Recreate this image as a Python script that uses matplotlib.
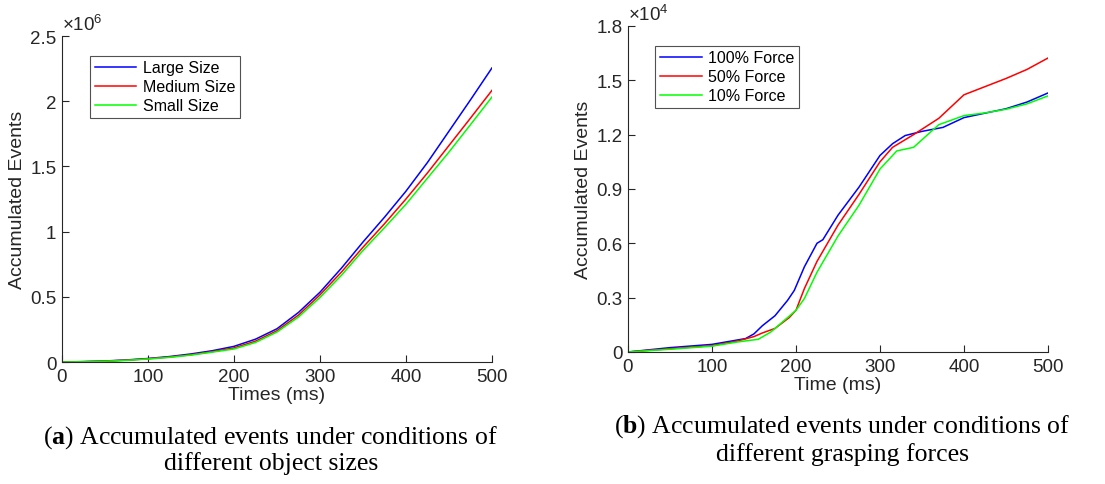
import matplotlib.pyplot as plt
from matplotlib.ticker import FuncFormatter

plt.rcParams['font.family'] = ['Liberation Sans', 'DejaVu Sans']
plt.rcParams['mathtext.fontset'] = 'custom'
plt.rcParams['mathtext.bf'] = 'Liberation Serif:bold'
plt.rcParams['mathtext.rm'] = 'Liberation Sans'

# (a) accumulated events vs. time for object sizes, in units of 1e6
t_size = [0, 25, 50, 75, 100, 125, 150, 175, 200, 225, 250,
          275, 300, 325, 350, 375, 400, 425, 450, 475, 500]
large = [0, 0.003, 0.008, 0.016, 0.027, 0.042, 0.062, 0.087, 0.12, 0.175, 0.255,
         0.38, 0.535, 0.72, 0.92, 1.11, 1.31, 1.53, 1.77, 2.01, 2.255]
medium = [0, 0.003, 0.007, 0.014, 0.025, 0.038, 0.056, 0.08, 0.108, 0.16, 0.24,
          0.36, 0.515, 0.69, 0.88, 1.06, 1.25, 1.45, 1.66, 1.87, 2.083]
small = [0, 0.002, 0.006, 0.013, 0.023, 0.036, 0.053, 0.076, 0.10, 0.15, 0.23,
         0.345, 0.495, 0.665, 0.855, 1.03, 1.21, 1.41, 1.61, 1.82, 2.032]
size_labels = ['Large Size', 'Medium Size', 'Small Size']

# (b) accumulated events vs. time for grasping forces, in units of 1e4
t_f100 = [0, 25, 50, 100, 140, 150, 160, 175, 190, 198, 210, 225, 232, 250,
          275, 300, 315, 330, 350, 375, 400, 450, 475, 500]
f100 = [0, 0.012, 0.024, 0.042, 0.074, 0.10, 0.145, 0.20, 0.285, 0.34, 0.47, 0.60, 0.62, 0.755,
        0.91, 1.085, 1.15, 1.195, 1.218, 1.24, 1.294, 1.343, 1.38, 1.43]
t_f50 = [0, 50, 100, 130, 150, 160, 175, 192, 200, 210, 225, 250,
         275, 300, 315, 340, 370, 400, 450, 475, 500]
f50 = [0, 0.018, 0.035, 0.06, 0.085, 0.105, 0.13, 0.19, 0.23, 0.35, 0.50, 0.70,
       0.87, 1.05, 1.13, 1.20, 1.29, 1.42, 1.51, 1.56, 1.623]
t_f10 = [0, 50, 100, 130, 155, 170, 190, 200, 210, 225, 240, 250,
         275, 300, 320, 340, 370, 400, 425, 450, 475, 500]
f10 = [0, 0.015, 0.032, 0.055, 0.07, 0.11, 0.19, 0.23, 0.295, 0.44, 0.56, 0.64,
       0.81, 1.01, 1.11, 1.13, 1.255, 1.305, 1.32, 1.34, 1.37, 1.414]
force_labels = ['100% Force', '50% Force', '10% Force']

colors = ['#0000ff', '#ff0000', '#00ff00']
gray = '#262626'

fig = plt.figure(figsize=(11.05, 4.85), dpi=100)
ax1 = fig.add_axes([0.0561, 0.2515, 0.3891, 0.6722])
ax2 = fig.add_axes([0.5683, 0.2722, 0.3801, 0.6722])

for y, lab, c in zip([large, medium, small], size_labels, colors):
    ax1.plot(t_size, y, color=c, lw=1.1, label=lab)
for t, y, lab, c in zip([t_f100, t_f50, t_f10], [f100, f50, f10], force_labels, colors):
    ax2.plot(t, y, color=c, lw=1.1, label=lab)

fmt = FuncFormatter(lambda v, p: '%g' % round(v, 3))
setups = [(ax1, 2.5, [0, 0.5, 1, 1.5, 2, 2.5], 'Times (ms)', '6'),
          (ax2, 1.8, [0, 0.3, 0.6, 0.9, 1.2, 1.5, 1.8], 'Time (ms)', '4')]
for ax, ymax, yt, xl, ex in setups:
    ax.set_xlim(0, 500)
    ax.set_ylim(0, ymax)
    ax.set_xticks([0, 100, 200, 300, 400, 500])
    ax.set_yticks(yt)
    ax.yaxis.set_major_formatter(fmt)
    for s in ['top', 'right']:
        ax.spines[s].set_visible(False)
    for s in ['left', 'bottom']:
        ax.spines[s].set_color(gray)
        ax.spines[s].set_linewidth(0.8)
    ax.tick_params(direction='in', length=5, width=0.8, colors=gray, labelsize=13.5, pad=4)
    ax.set_xlabel(xl, fontsize=14, color=gray, labelpad=1)
    ax.set_ylabel('Accumulated Events', fontsize=14, color=gray, labelpad=3)
    ax.text(0.0, 1.005, r'$\times\mathrm{10}^{%s}$' % ex, transform=ax.transAxes,
            fontsize=13.5, color=gray, va='bottom', ha='left')
    leg = ax.legend(loc='upper left', bbox_to_anchor=(0.065, 0.94), fontsize=11.5,
                    frameon=True, fancybox=False, handlelength=2.6, handletextpad=0.4,
                    borderpad=0.3, labelspacing=0.25, borderaxespad=0)
    leg.get_frame().set_edgecolor(gray)
    leg.get_frame().set_linewidth(0.8)
    for txt in leg.get_texts():
        txt.set_color('black')

serif = ['Liberation Serif', 'DejaVu Serif']
fig.text(0.245, 0.098, r'($\mathbf{a}$) Accumulated events under conditions of',
         ha='center', va='center', fontsize=18.5, family=serif)
fig.text(0.245, 0.045, 'different object sizes',
         ha='center', va='center', fontsize=18.5, family=serif)
fig.text(0.762, 0.12, r'($\mathbf{b}$) Accumulated events under conditions of',
         ha='center', va='center', fontsize=18.5, family=serif)
fig.text(0.762, 0.062, 'different grasping forces',
         ha='center', va='center', fontsize=18.5, family=serif)

fig.savefig('out.png', dpi=100)
